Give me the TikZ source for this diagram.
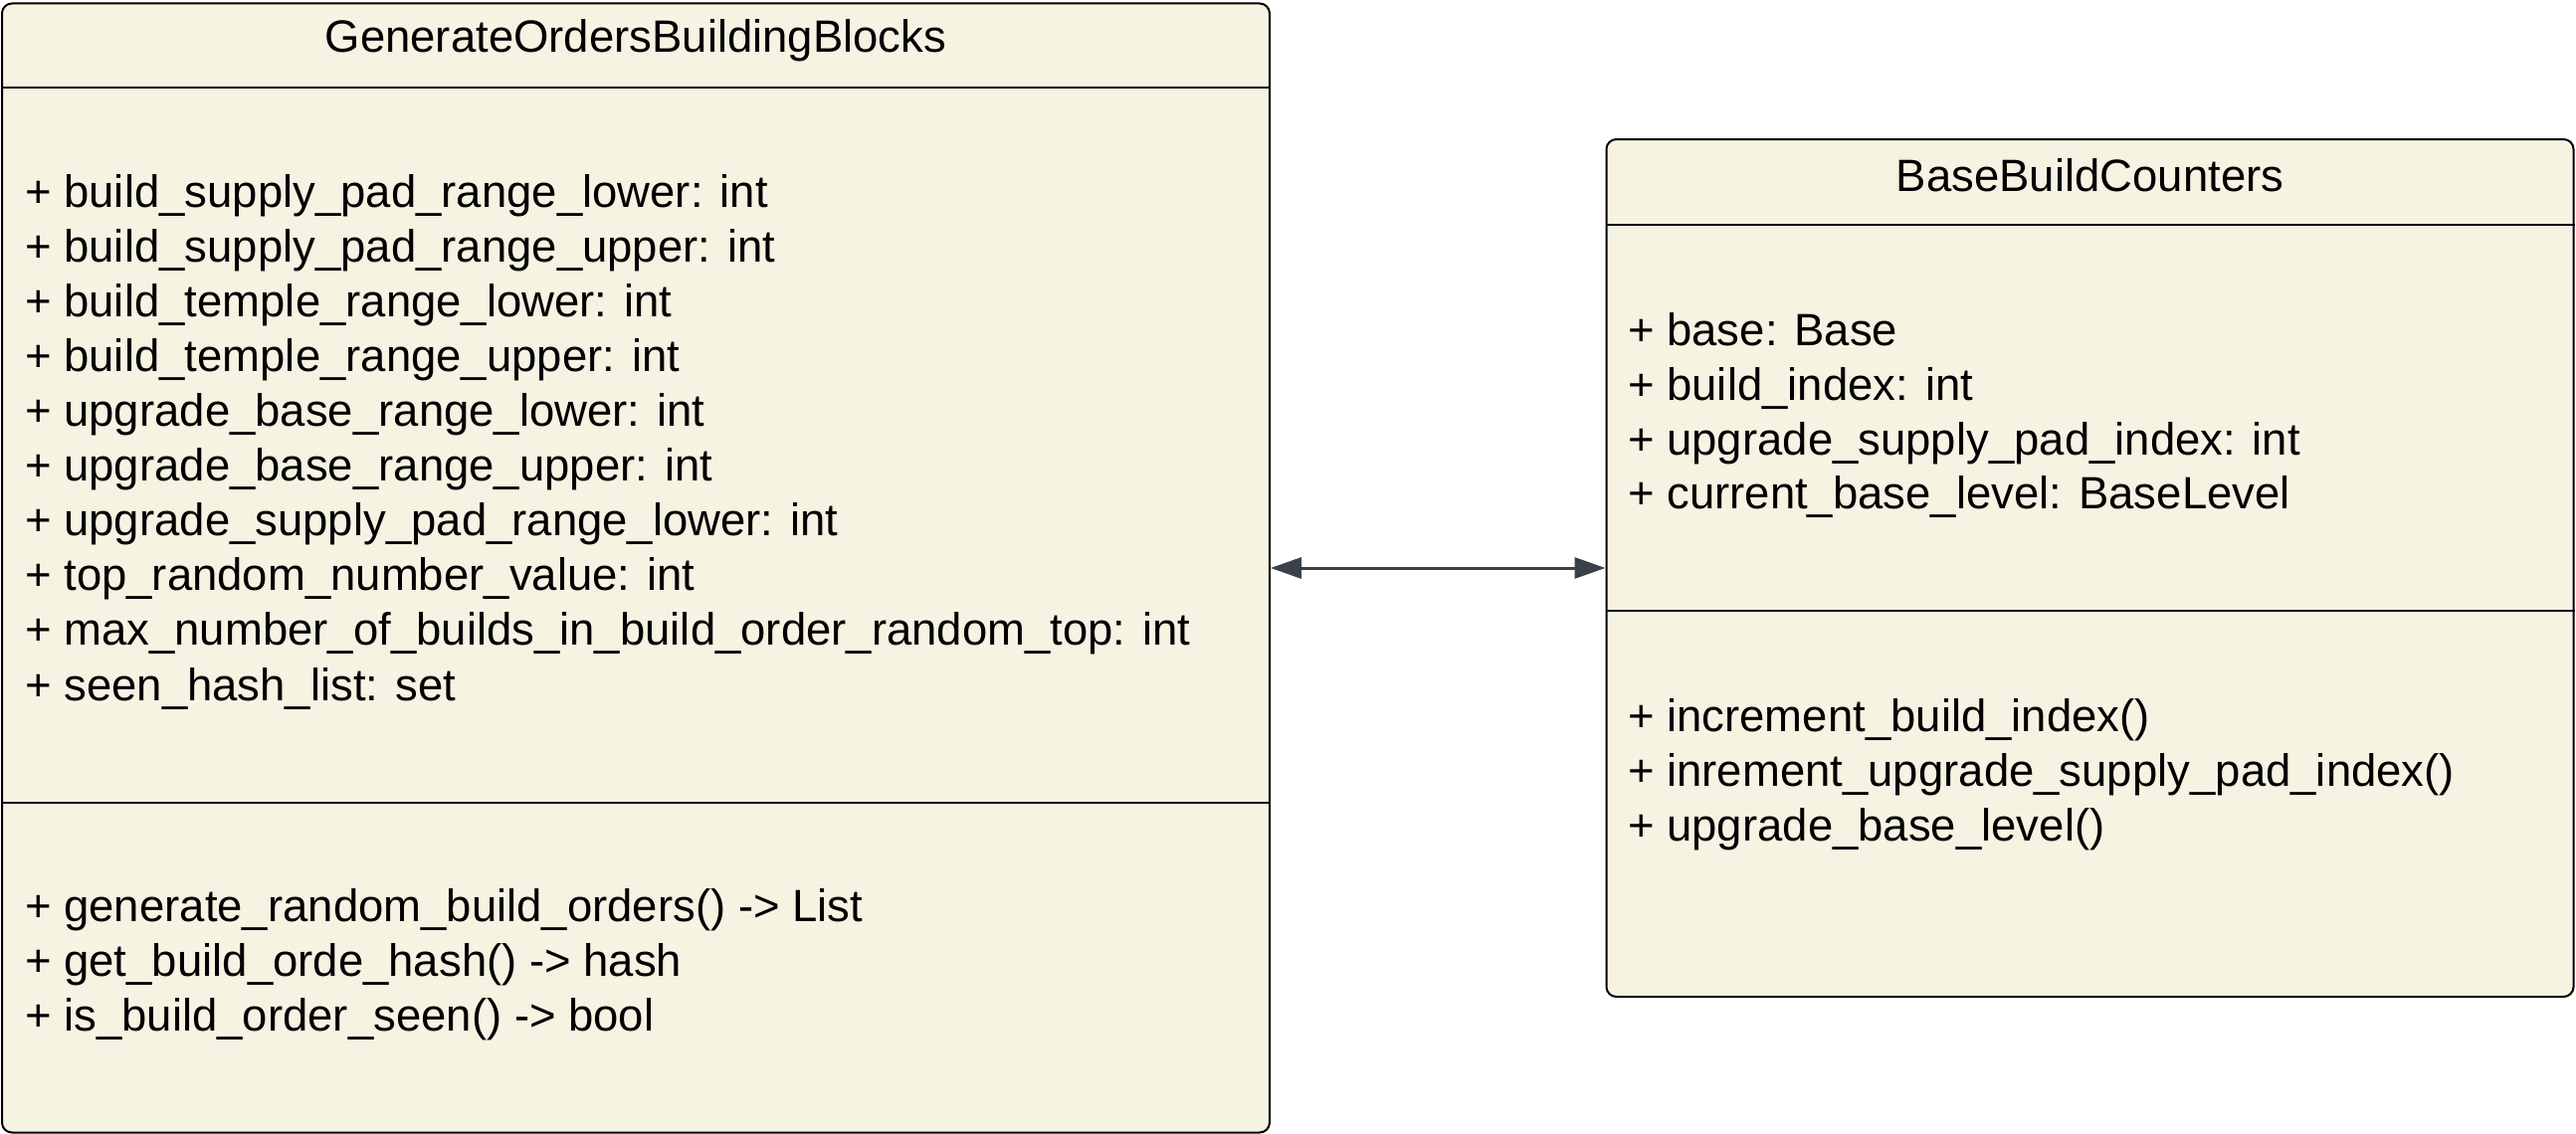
\documentclass[tikz,border=0pt]{standalone}
\usepackage{fontspec}
\setmainfont{Liberation Sans}
\usepackage{tikz}
\usetikzlibrary{arrows.meta}

\definecolor{umlfill}{HTML}{F6F3E3}
\definecolor{linkgray}{HTML}{3A414A}

\tikzset{
	classbox/.style={shape=rectangle, draw=black, fill=umlfill, line width=2pt, rounded corners=10pt, inner sep=0pt},
	member/.style={anchor=base west, inner sep=0pt},
	classname/.style={anchor=base, inner sep=0pt},
	divider/.style={draw=black, line width=2pt},
	assoc/.style={draw=linkgray, line width=3pt, {Triangle[length=31pt,width=21pt]}-{Triangle[length=31pt,width=21pt]}}
}

\begin{document}
\begin{tikzpicture}[x=1pt, y=1pt, font=\fontsize{45.5}{55}\selectfont]
	\useasboundingbox (0,0) rectangle (2589,-1140);

	\node[classbox, minimum width=1274pt, minimum height=1135pt] (gob) at (639,-571) {};
	\node[classbox, minimum width=972pt, minimum height=862pt] (bbc) at (2100.5,-571) {};

	\draw[divider] (gob.west |- 0,-87.5) -- (gob.east |- 0,-87.5);
	\draw[divider] (gob.west |- 0,-806.5) -- (gob.east |- 0,-806.5);
	\draw[divider] (bbc.west |- 0,-226) -- (bbc.east |- 0,-226);
	\draw[divider] (bbc.west |- 0,-614) -- (bbc.east |- 0,-614);

	\node[classname] (gobt) at (639,-53) {GenerateOrdersBuildingBlocks};
	\node[member] (ga1) at (25,-208) {+ build\_supply\_pad\_range\_lower: int};
	\node[member] (ga2) at (25,-263) {+ build\_supply\_pad\_range\_upper: int};
	\node[member] (ga3) at (25,-318) {+ build\_temple\_range\_lower: int};
	\node[member] (ga4) at (25,-373) {+ build\_temple\_range\_upper: int};
	\node[member] (ga5) at (25,-428) {+ upgrade\_base\_range\_lower: int};
	\node[member] (ga6) at (25,-483.5) {+ upgrade\_base\_range\_upper: int};
	\node[member] (ga7) at (25,-538.5) {+ upgrade\_supply\_pad\_range\_lower: int};
	\node[member] (ga8) at (25,-593.5) {+ top\_random\_number\_value: int};
	\node[member] (ga9) at (25,-648.5) {+ max\_number\_of\_builds\_in\_build\_order\_random\_top: int};
	\node[member] (ga10) at (25,-704) {+ seen\_hash\_list: set};
	\node[member] (gm1) at (25,-926.5) {+ generate\_random\_build\_orders() -> List};
	\node[member] (gm2) at (25,-981.5) {+ get\_build\_orde\_hash() -> hash};
	\node[member] (gm3) at (25,-1036.5) {+ is\_build\_order\_seen() -> bool};

	\node[classname] (bbct) at (2100.5,-192) {BaseBuildCounters};
	\node[member] (ba1) at (1636,-347) {+ base: Base};
	\node[member] (ba2) at (1636,-402) {+ build\_index: int};
	\node[member] (ba3) at (1636,-457) {+ upgrade\_supply\_pad\_index: int};
	\node[member] (ba4) at (1636,-511) {+ current\_base\_level: BaseLevel};
	\node[member] (bm1) at (1636,-735) {+ increment\_build\_index()};
	\node[member] (bm2) at (1636,-790) {+ inrement\_upgrade\_supply\_pad\_index()};
	\node[member] (bm3) at (1636,-845) {+ upgrade\_base\_level()};

	\draw [assoc] (gob.east) -- (bbc.west);
\end{tikzpicture}
\end{document}
